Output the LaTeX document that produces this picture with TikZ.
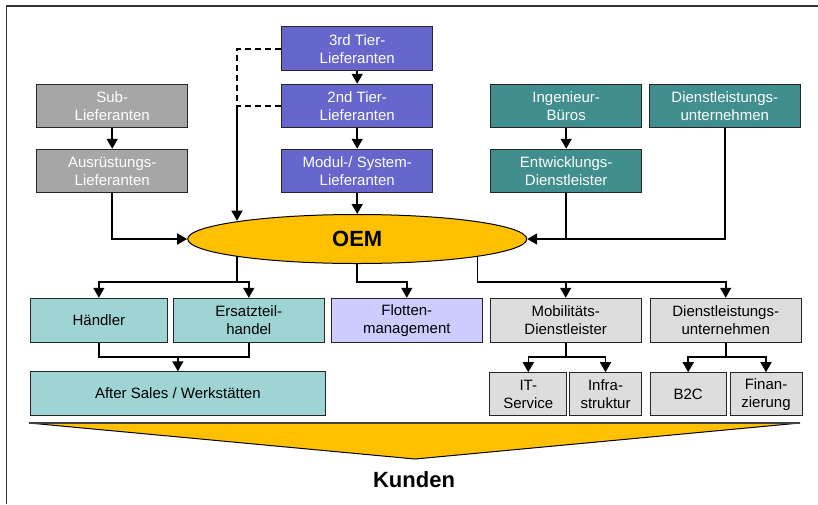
\documentclass[tikz,border=0pt]{standalone}
\usepackage{fontspec}
\setmainfont{Liberation Sans}
\usetikzlibrary{arrows.meta,shapes.geometric}
\definecolor{cpurple}{HTML}{6666CC}
\definecolor{cgray}{HTML}{A6A6A6}
\definecolor{cteal}{HTML}{408E8E}
\definecolor{clteal}{HTML}{9ED4D4}
\definecolor{clav}{HTML}{CCCCFF}
\definecolor{clgray}{HTML}{DDDDDD}
\definecolor{cyel}{HTML}{FFC000}
\definecolor{cframe}{HTML}{333333}
\tikzset{
  box/.style={draw=black!85, line width=1pt, rectangle, inner sep=0pt, align=center,
    minimum height=43.5pt, font=\fontsize{15}{18}\selectfont},
  wbox/.style={box, text=white},
  conn/.style={line width=1.6pt, black},
  arr/.style={conn, -{Triangle[width=11pt,length=10pt]}},
  dconn/.style={conn, dash pattern=on 6pt off 4pt},
}
\begin{document}
\begin{tikzpicture}[x=1pt,y=-1pt]
\useasboundingbox (0,0) rectangle (818,504);
% frame (top and left edges visible)
\draw[cframe, line width=1.5pt] (6.5,504) -- (6.5,6) -- (818,6);

% supplier side
\node[wbox, fill=cpurple, minimum width=151pt, minimum height=44pt] (t3) at (357.2,48.7) {3rd Tier-\\Lieferanten};
\node[wbox, fill=cpurple, minimum width=151pt] (t2) at (357.2,106) {2nd Tier-\\Lieferanten};
\node[wbox, fill=cpurple, minimum width=151pt] (mod) at (357.2,171) {Modul-/ System-\\Lieferanten};
\node[wbox, fill=cgray, minimum width=151pt] (sub) at (112.2,106) {Sub-\\Lieferanten};
\node[wbox, fill=cgray, minimum width=151pt] (aus) at (112.2,171) {Ausrüstungs-\\Lieferanten};
\node[wbox, fill=cteal, minimum width=151pt] (ing) at (566.2,106) {Ingenieur-\\Büros};
\node[wbox, fill=cteal, minimum width=151pt] (dlt) at (724.8,106) {Dienstleistungs-\\unternehmen};
\node[wbox, fill=cteal, minimum width=151pt] (ent) at (566.2,171) {Entwicklungs-\\Dienstleister};

% OEM
\node[ellipse, draw=black, line width=1pt, fill=cyel, minimum width=339pt, minimum height=49pt,
  inner sep=0pt, font=\fontsize{22}{26}\selectfont\bfseries] (oem) at (357.2,239) {OEM};

% customer side
\node[box, fill=clteal, minimum width=137.7pt, minimum height=44pt] (haend) at (98.85,320.3) {Händler};
\node[box, fill=clteal, minimum width=151pt, minimum height=44pt] (ersatz) at (248.8,320.3) {Ersatzteil-\\handel};
\node[box, fill=clav, minimum width=151pt, minimum height=44pt] (flotten) at (406.8,320.3) {Flotten-\\management};
\node[box, fill=clgray, minimum width=151.3pt, minimum height=44pt] (mob) at (565.7,320.3) {Mobilitäts-\\Dienstleister};
\node[box, fill=clgray, minimum width=151.3pt, minimum height=44pt] (dlb) at (725.7,320.3) {Dienstleistungs-\\unternehmen};
\node[box, fill=clteal, minimum width=295.7pt, minimum height=43.3pt] (after) at (177.85,393.4) {After Sales / Werkstätten};
\node[box, fill=clgray, minimum width=76.7pt, minimum height=43pt] (it) at (528.3,394.2) {IT-\\Service};
\node[box, fill=clgray, minimum width=72.4pt, minimum height=43pt] (infra) at (605.5,394.2) {Infra-\\struktur};
\node[box, fill=clgray, minimum width=76.3pt, minimum height=43pt] (b2c) at (688.2,394.2) {B2C};
\node[box, fill=clgray, minimum width=72pt, minimum height=43pt] (fin) at (766,394.2) {Finan-\\zierung};

% Kunden wedge
\fill[cyel] (29,423) -- (800,423) -- (415,459) -- cycle;
\draw[black, line width=1pt] (29,423) -- (415,459) -- (800,423);
\draw[black!75, line width=2pt] (29,423) -- (800,423);
\node[font=\fontsize{22}{26}\selectfont\bfseries] (kunden) at (414,480) {Kunden};

% supplier connectors
\draw[arr] (t3.south) -- (t2.north);
\draw[arr] (t2.south) -- (mod.north);
\draw[arr] (mod.south) -- (oem.north);
\draw[arr] (sub.south) -- (aus.north);
\draw[arr] (aus.south) |- (oem.west);
\draw[arr] (ing.south) -- (ent.north);
\draw[arr] (ent.south) |- (oem.east);
\draw[conn] (dlt.south) |- (ent.south |- oem.east);
\coordinate (dj) at (237,106);
\draw[dconn] (t3.west) -| (dj);
\draw[dconn] (t2.west) -- (dj);
\draw[arr] (dj) -- (dj |- oem.171.8);

% customer connectors
\coordinate (b1) at (237,281.7);
\coordinate (b2) at (477.3,281.7);
\draw[conn] (b1 |- oem.188.2) -- (b1);
\draw[arr] (b1) -| (haend.north);
\draw[arr] (b1) -| (ersatz.north);
\draw[arr] (oem.south) -- (oem.south |- b1) -| (flotten.north);
\draw[conn] (b2 |- oem.351.8) -- (b2);
\draw[arr] (b2) -| (mob.north);
\draw[arr] (b2) -| (dlb.north);

\coordinate (h1) at (98.85,356.7);
\draw[conn] (haend.south) -- (h1) -| (ersatz.south);
\draw[arr] (after.north |- h1) -- (after.north);

\draw[conn] (mob.south) -- ++(0,14.4) coordinate (m1);
\draw[arr] (m1) -| (it.north);
\draw[arr] (m1) -| (infra.north);
\draw[conn] (dlb.south) -- ++(0,14.4) coordinate (d1);
\draw[arr] (d1) -| (b2c.north);
\draw[arr] (d1) -| (fin.north);
\end{tikzpicture}
\end{document}
